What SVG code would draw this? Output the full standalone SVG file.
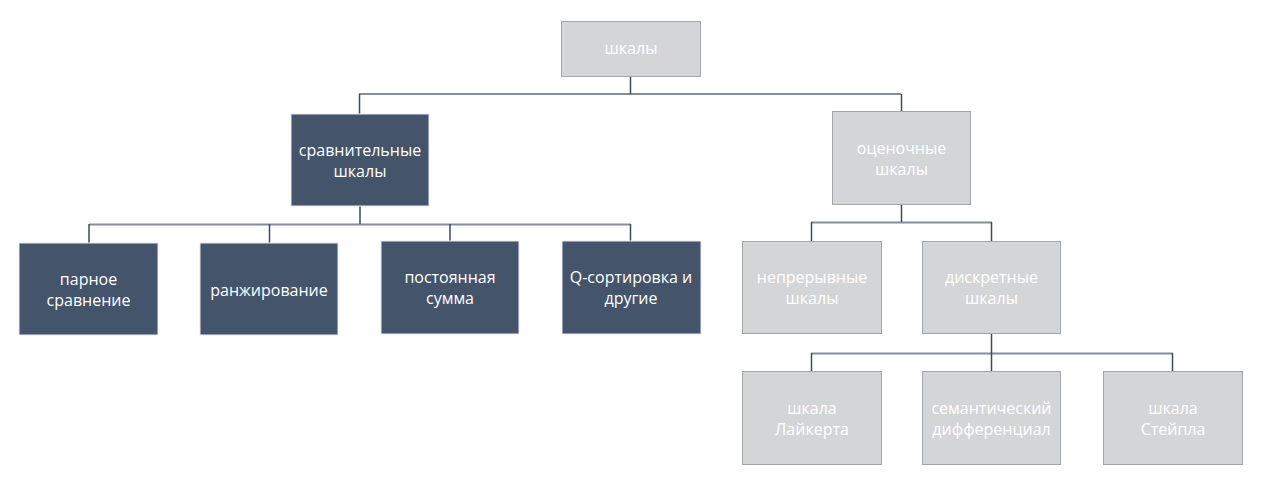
<svg xmlns="http://www.w3.org/2000/svg" width="1266" height="487" viewBox="0 0 1266 487">
<style>
.g{fill:#d4d5d7;stroke:#a3a6aa;stroke-width:1}
.d{fill:#44546a;stroke:#e8eaed;stroke-width:1}
text{font-family:"Open Sans","Liberation Sans",sans-serif;font-size:16px;fill:#ffffff;text-anchor:middle;dominant-baseline:central}
.h{stroke:#858d97;stroke-width:2;fill:none}
.v{stroke:#3d4b5e;stroke-width:1.5;fill:none}
</style>
<rect width="1266" height="487" fill="#ffffff"/>
<g id="connectors">
<path class="h" d="M359 94H901"/>
<path class="v" d="M630.5 76V94M359.5 94V114M901.5 94V111"/>
<path class="h" d="M89 224.5H631"/>
<path class="v" d="M360 206V224M89 224V243M269.5 224V243M450 224V241M630.5 224V241"/>
<path class="h" d="M811 222.5H992"/>
<path class="v" d="M901.5 204V222M811.5 222V241M991.5 222V241"/>
<path class="h" d="M811 353.5H1173"/>
<path class="v" d="M991.5 334V372M811.5 353V372M1172.5 353V372"/>
</g>
<g id="n-shkaly"><rect class="g" x="561.5" y="21.5" width="139" height="55"/><text x="631" y="48">шкалы</text></g>
<g id="n-sravn"><rect class="d" x="291" y="114" width="138" height="92"/><text x="360" y="150">сравнительные</text><text x="360" y="171">шкалы</text></g>
<g id="n-ocen"><rect class="g" x="832.5" y="111.5" width="138" height="93"/><text x="901.5" y="148">оценочные</text><text x="901.5" y="169">шкалы</text></g>
<g id="n-parnoe"><rect class="d" x="19" y="243" width="139" height="92"/><text x="88.5" y="279">парное</text><text x="88.5" y="300">сравнение</text></g>
<g id="n-ranzh"><rect class="d" x="200" y="243" width="138" height="92"/><text x="269" y="290">ранжирование</text></g>
<g id="n-post"><rect class="d" x="381" y="241" width="138" height="93"/><text x="450" y="277">постоянная</text><text x="450" y="298">сумма</text></g>
<g id="n-q"><rect class="d" x="562" y="241" width="139" height="93"/><text x="631" y="277">Q-сортировка и</text><text x="631" y="298">другие</text></g>
<g id="n-nepr"><rect class="g" x="742.5" y="241.5" width="139" height="92"/><text x="812" y="277">непрерывные</text><text x="812" y="298">шкалы</text></g>
<g id="n-diskr"><rect class="g" x="922.5" y="241.5" width="138" height="92"/><text x="991.5" y="277">дискретные</text><text x="991.5" y="298">шкалы</text></g>
<g id="n-laik"><rect class="g" x="742.5" y="371.5" width="139" height="93"/><text x="812" y="408">шкала</text><text x="812" y="429">Лайкерта</text></g>
<g id="n-sem"><rect class="g" x="922.5" y="371.5" width="138" height="93"/><text x="991.5" y="408">семантический</text><text x="991.5" y="429">дифференциал</text></g>
<g id="n-steipl"><rect class="g" x="1103.5" y="371.5" width="139" height="93"/><text x="1173" y="408">шкала</text><text x="1173" y="429">Стейпла</text></g>
</svg>
